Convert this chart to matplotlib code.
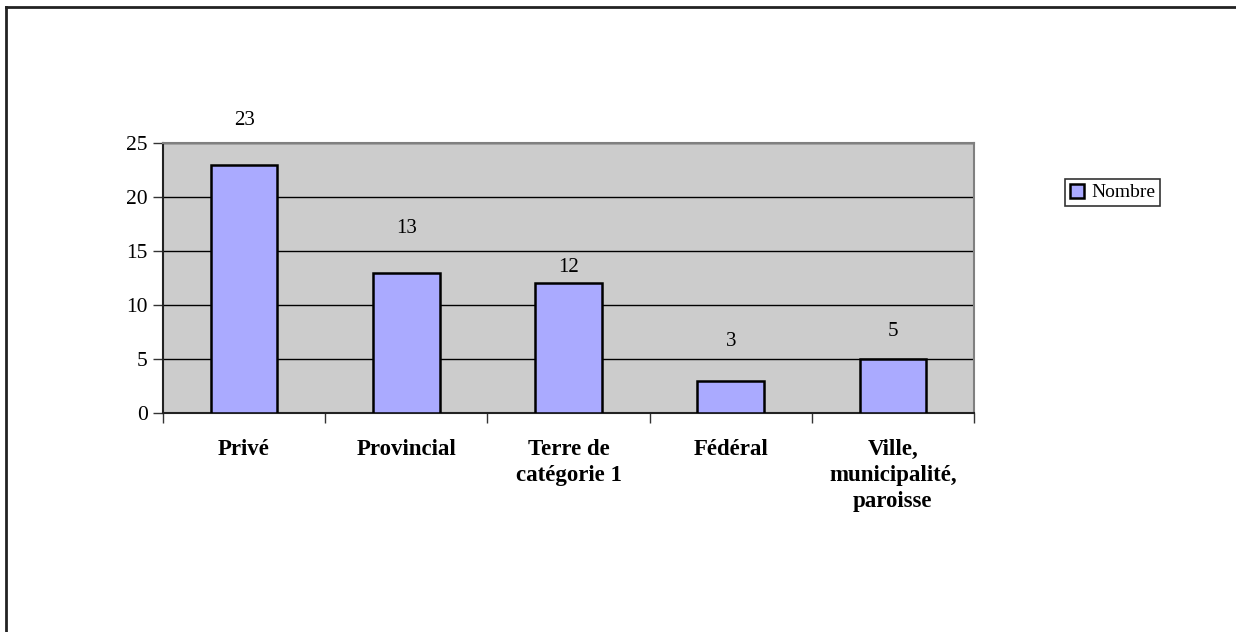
import matplotlib
matplotlib.use("Agg")
import matplotlib.pyplot as plt
from matplotlib.patches import Rectangle
from matplotlib.lines import Line2D
import numpy as np

categories = ["Privé", "Provincial", "Terre de\ncatégorie 1", "Fédéral", "Ville,\nmunicipalité,\nparoisse"]
values = [23, 13, 12, 3, 5]
yticks = [0, 5, 10, 15, 20, 25]
series_name = "Nombre"

# label offsets above bar tops, in pixels (style only)
label_offsets_px = [44, 44, 16, 39, 27]

plt.rcParams['font.family'] = ['Liberation Serif', 'DejaVu Serif']

W, H = 1236, 632
dpi = 100
fig = plt.figure(figsize=(W / dpi, H / dpi), dpi=dpi)
fig.patch.set_facecolor("white")

# outer frame (only top and left visible in the reference)
fig.add_artist(Line2D([6 / W, 6 / W], [0, 1 - 7 / H], transform=fig.transFigure, color="#222222", lw=2))
fig.add_artist(Line2D([6 / W, 1.0], [1 - 7 / H, 1 - 7 / H], transform=fig.transFigure, color="#222222", lw=2))

ax_l, ax_r, ax_t, ax_b = 163, 974, 143, 413
ax = fig.add_axes([ax_l / W, 1 - ax_b / H, (ax_r - ax_l) / W, (ax_b - ax_t) / H])
ax.set_facecolor("#CCCCCC")

x = np.arange(len(categories))
ax.bar(x, values, width=0.41, color="#AAAAFF", edgecolor="black", linewidth=1.8, zorder=3)

ax.set_xlim(-0.5, len(categories) - 0.5)
ax.set_ylim(0, 25)
ax.set_yticks(yticks)
ax.set_yticklabels([str(t) for t in yticks], fontsize=15.5)
ax.yaxis.grid(True, color="black", linewidth=1.0, zorder=1)
ax.set_axisbelow(True)

ax.set_xticks(np.arange(len(categories) + 1) - 0.5, minor=False)
ax.set_xticklabels([])
ax.set_xticks(x, minor=True)
ax.set_xticklabels(categories, minor=True, fontsize=16.5, fontweight="bold", linespacing=1.3, va="top")
ax.tick_params(axis="x", which="minor", length=0, pad=19)
ax.tick_params(axis="x", which="major", length=7, width=1, color="#333333")
ax.tick_params(axis="y", length=7, width=1, color="#333333", pad=4)

for side in ["top", "right"]:
    ax.spines[side].set_color("#808080")
    ax.spines[side].set_linewidth(1.5)
for side in ["left", "bottom"]:
    ax.spines[side].set_color("#222222")
    ax.spines[side].set_linewidth(1.5)

for xi, v, off in zip(x, values, label_offsets_px):
    ax.annotate(str(v), (xi, v), xytext=(0, off * 72 / dpi), textcoords="offset points",
                ha="center", va="center", fontsize=15, clip_on=False, annotation_clip=False)

# legend
handle = Rectangle((0, 0), 1, 1, facecolor="#AAAAFF", edgecolor="black", linewidth=1.8)
leg = fig.legend([handle], [series_name], loc="center left",
                 bbox_to_anchor=(1065 / W, 1 - 192.5 / H), frameon=True, fancybox=False,
                 fontsize=14, handlelength=0.75, handleheight=0.75, handletextpad=0.35,
                 borderpad=0.25, borderaxespad=0)
leg.get_frame().set_edgecolor("black")
leg.get_frame().set_linewidth(1.2)

fig.savefig("out.png", dpi=dpi, facecolor="white")
